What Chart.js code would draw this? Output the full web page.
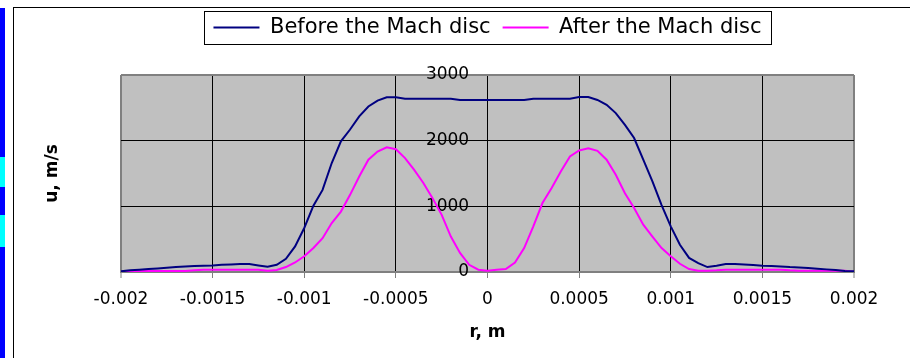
<!DOCTYPE html>
<html lang="en">
<head>
  <meta charset="UTF-8" />
  <title>u, m/s vs r, m</title>
  <script src="https://cdn.jsdelivr.net/npm/chart.js"></script>
  <style>
    html, body { margin: 0; padding: 0; background: #fff; }
    body { width: 910px; height: 358px; position: relative; overflow: hidden; }
    .strip { position: absolute; left: 0; top: 8px; width: 5px; height: 350px; background: #0000ff; }
    .cyan { position: absolute; left: 0; width: 5px; background: #00ffff; }
    .frame { position: absolute; left: 13px; top: 7px; width: 920px; height: 360px;
             border-left: 1px solid #000; border-top: 1px solid #000; }
    #chart { position: absolute; left: 0; top: 0; }
  </style>
</head>
<body>
  <div class="strip">
    <div class="cyan" style="top:149px;height:30px"></div>
    <div class="cyan" style="top:207px;height:32px"></div>
  </div>
  <div class="frame"></div>
  <canvas id="chart" width="910" height="358"></canvas>

  <script>
    // radius, m
    const rValues = [
      -0.002, -0.00195, -0.0019, -0.00185, -0.0018, -0.00175, -0.0017, -0.00165, -0.0016, -0.00155,
      -0.0015, -0.00145, -0.0014, -0.00135, -0.0013, -0.00125, -0.0012, -0.00115, -0.0011, -0.00105,
      -0.001, -0.00095, -0.0009, -0.00085, -0.0008, -0.00075, -0.0007, -0.00065, -0.0006, -0.00055,
      -0.0005, -0.00045, -0.0004, -0.00035, -0.0003, -0.00025, -0.0002, -0.00015, -0.0001, -0.00005,
      0,
      0.00005, 0.0001, 0.00015, 0.0002, 0.00025, 0.0003, 0.00035, 0.0004, 0.00045, 0.0005,
      0.00055, 0.0006, 0.00065, 0.0007, 0.00075, 0.0008, 0.00085, 0.0009, 0.00095, 0.001,
      0.00105, 0.0011, 0.00115, 0.0012, 0.00125, 0.0013, 0.00135, 0.0014, 0.00145, 0.0015,
      0.00155, 0.0016, 0.00165, 0.0017, 0.00175, 0.0018, 0.00185, 0.0019, 0.00195, 0.002
    ];

    // u, m/s before the Mach disc
    const beforeDisc = [
      10, 25, 35, 45, 55, 65, 75, 85, 90, 95,
      100, 110, 115, 120, 120, 100, 80, 110, 200, 390,
      670, 1010, 1250, 1660, 1990, 2170, 2370, 2520, 2610, 2660,
      2660, 2640, 2640, 2640, 2640, 2640, 2640, 2620, 2620, 2620,
      2620,
      2620, 2620, 2620, 2620, 2640, 2640, 2640, 2640, 2640, 2665,
      2665, 2620, 2545, 2420, 2240, 2040, 1710, 1380, 1020, 695,
      415, 215, 135, 75, 95, 120, 120, 115, 105, 95,
      90, 85, 75, 70, 60, 50, 40, 30, 15, 10
    ];

    // u, m/s after the Mach disc
    const afterDisc = [
      5, 15, 15, 15, 15, 15, 15, 15, 25, 35,
      35, 35, 35, 35, 35, 35, 20, 30, 75, 145,
      240, 365, 515, 745, 920, 1175, 1455, 1710, 1835, 1900,
      1870, 1735, 1555, 1355, 1125, 870, 540, 290, 110, 35,
      20,
      35, 45, 145, 365, 695, 1050, 1280, 1530, 1760, 1850,
      1885, 1845, 1710, 1480, 1200, 975, 720, 540, 365, 240,
      125, 45, 20, 20, 25, 35, 35, 35, 35, 35,
      35, 35, 25, 20, 20, 20, 20, 20, 20, 5
    ];

    const xTicks = [-0.002, -0.0015, -0.001, -0.0005, 0, 0.0005, 0.001, 0.0015, 0.002];
    const xTickLabels = ['-0.002', '-0.0015', '-0.001', '-0.0005', '0', '0.0005', '0.001', '0.0015', '0.002'];
    const yTicks = [0, 1000, 2000, 3000];
    const yTickLabels = ['0', '1000', '2000', '3000'];

    const FONT = "'DejaVu Sans', sans-serif";
    const toPoints = ys => rValues.map((r, i) => ({ x: r, y: ys[i] }));

    // grey plot area
    const plotBackground = {
      id: 'plotBackground',
      beforeDraw(chart) {
        const { ctx, chartArea: a } = chart;
        ctx.save();
        ctx.fillStyle = '#c0c0c0';
        ctx.fillRect(a.left, a.top, a.right - a.left, a.bottom - a.top);
        ctx.restore();
      }
    };

    // frame round the legend items
    const legendFrame = {
      id: 'legendFrame',
      afterDraw(chart) {
        const boxes = chart.legend && chart.legend.legendHitBoxes;
        if (!boxes || !boxes.length) return;
        const left = Math.min(...boxes.map(b => b.left)) - 9;
        const right = Math.max(...boxes.map(b => b.left + b.width)) + 10;
        const cy = boxes[0].top + boxes[0].height / 2;
        const ctx = chart.ctx;
        ctx.save();
        ctx.strokeStyle = '#000';
        ctx.lineWidth = 1;
        ctx.strokeRect(Math.round(left) + 0.5, Math.round(cy - 16.5) + 0.5, Math.round(right - left), 33);
        ctx.restore();
      }
    };

    new Chart(document.getElementById('chart'), {
      type: 'line',
      data: {
        datasets: [
          {
            label: 'Before the Mach disc',
            data: toPoints(beforeDisc),
            borderColor: '#000080',
            backgroundColor: '#000080',
            borderWidth: 2,
            pointRadius: 0,
            tension: 0,
            xAxisID: 'x',
            yAxisID: 'y'
          },
          {
            label: 'After the Mach disc',
            data: toPoints(afterDisc),
            borderColor: '#ff00ff',
            backgroundColor: '#ff00ff',
            borderWidth: 2,
            pointRadius: 0,
            tension: 0,
            xAxisID: 'x',
            yAxisID: 'y'
          }
        ]
      },
      options: {
        responsive: false,
        animation: false,
        devicePixelRatio: 1,
        layout: { padding: { left: 30, right: 56, top: 5, bottom: 0 } },
        plugins: {
          legend: {
            position: 'top',
            fullSize: false,
            labels: {
              usePointStyle: true,
              pointStyle: 'line',
              pointStyleWidth: 46,
              padding: 12,
              color: '#000',
              font: { family: FONT, size: 21 }
            }
          },
          tooltip: { enabled: false }
        },
        scales: {
          x: {
            type: 'linear',
            position: 'bottom',
            min: -0.002,
            max: 0.002,
            afterBuildTicks: axis => { axis.ticks = xTicks.map(v => ({ value: v })); },
            afterFit: axis => { axis.height = 86; axis.paddingLeft = 0; axis.paddingRight = 0; },
            ticks: {
              autoSkip: false,
              maxRotation: 0,
              padding: 11,
              color: '#000',
              font: { family: FONT, size: 17 },
              callback: (v, i) => xTickLabels[i]
            },
            grid: {
              color: c => (c.tick && Math.abs(c.tick.value) === 0.002) ? '#808080' : '#000',
              lineWidth: c => (c.tick && Math.abs(c.tick.value) === 0.002) ? 2 : 1,
              tickLength: 6,
              tickColor: '#808080',
              tickWidth: 1
            },
            border: { color: '#808080', width: 2 },
            title: {
              display: true,
              text: 'r, m',
              color: '#000',
              font: { family: FONT, size: 17, weight: 'bold' },
              padding: { top: 0, bottom: 15 }
            }
          },
          xt: {
            type: 'linear',
            position: 'top',
            min: -0.002,
            max: 0.002,
            ticks: { display: false },
            grid: { display: false, drawTicks: false },
            border: { display: false },
            afterFit: axis => { axis.height = 27; axis.paddingLeft = 0; axis.paddingRight = 0; }
          },
          y: {
            type: 'linear',
            // labels sit just left of r = 0; the line at r = 0 is the x grid line
            position: { x: -0.0001 },
            min: 0,
            max: 3000,
            afterBuildTicks: axis => { axis.ticks = yTicks.map(v => ({ value: v })); },
            ticks: {
              padding: 0,
              color: '#000',
              font: { family: FONT, size: 17 },
              callback: (v, i) => yTickLabels[i]
            },
            grid: {
              color: c => (c.tick && (c.tick.value === 3000 || c.tick.value === 0)) ? '#808080' : '#000',
              lineWidth: c => (c.tick && c.tick.value === 3000) ? 2 : 1,
              drawTicks: false
            },
            border: { display: false }
          },
          yt: {
            type: 'linear',
            position: 'left',
            min: 0,
            max: 3000,
            ticks: { display: false },
            grid: { display: false, drawTicks: false },
            border: { display: false },
            afterFit: axis => { axis.width = 91; },
            title: {
              display: true,
              text: 'u, m/s',
              color: '#000',
              font: { family: FONT, size: 17, weight: 'bold' },
              padding: { top: 12, bottom: 0 }
            }
          }
        }
      },
      plugins: [plotBackground, legendFrame]
    });
  </script>
</body>
</html>
